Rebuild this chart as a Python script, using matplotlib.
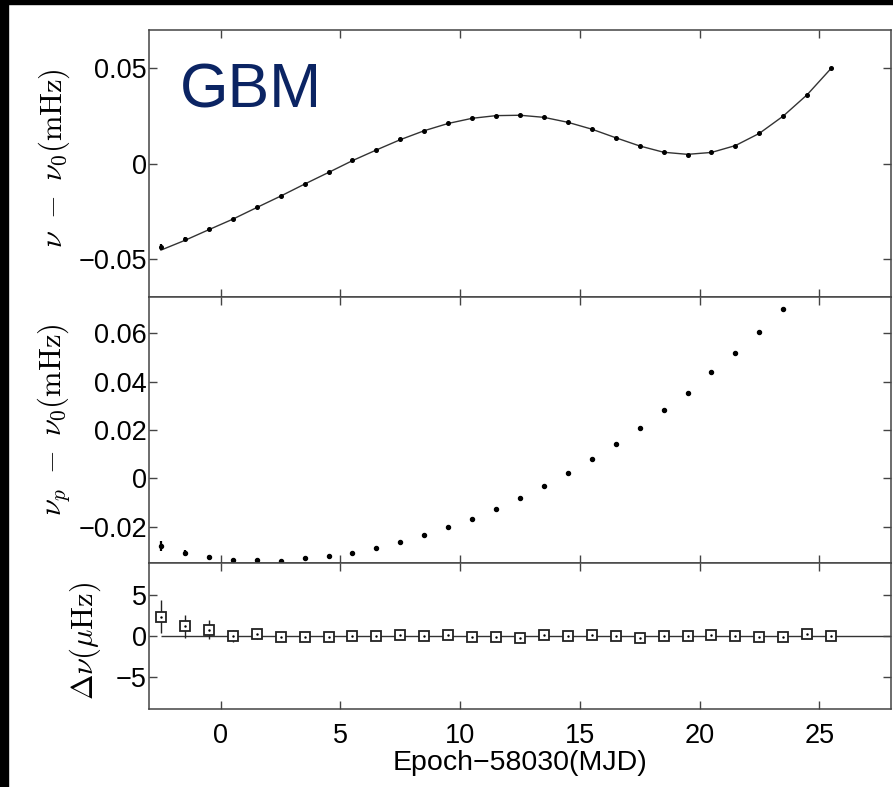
import matplotlib
matplotlib.use("Agg")
import matplotlib.pyplot as plt
from matplotlib.patches import Rectangle
import numpy as np

plt.rcParams["font.family"] = ["Liberation Sans", "DejaVu Sans"]
plt.rcParams["mathtext.fontset"] = "cm"

# epochs (MJD - 58030)
epoch = [-2.5, -1.5, -0.5, 0.5, 1.5, 2.5, 3.5, 4.5, 5.5, 6.5, 7.5, 8.5, 9.5, 10.5,
         11.5, 12.5, 13.5, 14.5, 15.5, 16.5, 17.5, 18.5, 19.5, 20.5, 21.5, 22.5,
         23.5, 24.5, 25.5]

# top panel: nu - nu0 (mHz), measured and fitted
nu_obs = [-0.0437, -0.0395, -0.0342, -0.0292, -0.0230, -0.0171, -0.0107, -0.0047,
          0.0016, 0.0071, 0.0126, 0.0173, 0.0210, 0.0237, 0.0251, 0.0253, 0.0242,
          0.0216, 0.0180, 0.0134, 0.0091, 0.0059, 0.0047, 0.0058, 0.0094, 0.0159,
          0.0249, 0.0361, 0.0499]
nu_err = [0.0015, 0.0009, 0.0006, 0.0004, 0.0003, 0.0003, 0.0003, 0.0003, 0.0003,
          0.0003, 0.0003, 0.0003, 0.0003, 0.0003, 0.0003, 0.0003, 0.0003, 0.0003,
          0.0003, 0.0003, 0.0003, 0.0003, 0.0003, 0.0003, 0.0003, 0.0003, 0.0003,
          0.0004, 0.0004]
nu_fit = [-0.0454, -0.0403, -0.0347, -0.0292, -0.0231, -0.0171, -0.0108, -0.0047,
          0.0015, 0.0071, 0.0125, 0.0172, 0.0210, 0.0237, 0.0251, 0.0253, 0.0242,
          0.0216, 0.0180, 0.0135, 0.0092, 0.0059, 0.0048, 0.0058, 0.0094, 0.0158,
          0.0249, 0.0361, 0.0499]

# middle panel: nu_p - nu0 (mHz)
epoch_p = epoch[:27]
nup_obs = [-0.0280, -0.0308, -0.0324, -0.0338, -0.0339, -0.0341, -0.0331, -0.0323,
           -0.0308, -0.0287, -0.0262, -0.0235, -0.0202, -0.0168, -0.0128, -0.0082,
           -0.0031, 0.0021, 0.0082, 0.0144, 0.0209, 0.0281, 0.0355, 0.0439, 0.0518,
           0.0605, 0.0699]
nup_err = [0.0019, 0.0012, 0.0009, 0.0006, 0.0005, 0.0004, 0.0004, 0.0004, 0.0004,
           0.0004, 0.0004, 0.0004, 0.0004, 0.0004, 0.0004, 0.0004, 0.0004, 0.0004,
           0.0004, 0.0004, 0.0004, 0.0004, 0.0004, 0.0004, 0.0004, 0.0004, 0.0004]

# bottom panel: residuals (uHz)
dnu = [2.4, 1.2, 0.8, 0.0, 0.2, -0.15, -0.15, -0.15, 0.0, 0.05, 0.1, 0.05, 0.1,
       -0.15, -0.15, -0.2, 0.15, 0.0, 0.1, 0.0, -0.2, -0.05, 0.0, 0.1, 0.0, -0.1,
       -0.1, 0.3, 0.0]
dnu_err = [2.0, 1.4, 1.2, 0.7, 0.6, 0.5, 0.5, 0.5, 0.5, 0.5, 0.5, 0.5, 0.5, 0.5,
           0.5, 0.5, 0.5, 0.5, 0.5, 0.5, 0.5, 0.5, 0.5, 0.5, 0.5, 0.5, 0.5, 0.5, 0.5]

x_ticks = [0, 5, 10, 15, 20, 25]
x_lim = (-3, 28)

W, H = 893, 787
fig = plt.figure(figsize=(W / 100, H / 100), dpi=100)

left = 149 / W
width = 742 / W
ax1 = fig.add_axes([left, 1 - 297 / H, width, 267 / H])
ax2 = fig.add_axes([left, 1 - 563 / H, width, 266 / H])
ax3 = fig.add_axes([left, 1 - 709 / H, width, 146 / H])

spine_col = "#444444"
for ax in (ax1, ax2, ax3):
    ax.set_xlim(*x_lim)
    ax.set_xticks(x_ticks)
    ax.tick_params(direction="in", length=6, width=1, colors=spine_col,
                   labelcolor="black", labelsize=19.5, top=True, right=True)
    ax.tick_params(axis="y", pad=1.5)
    ax.tick_params(axis="x", pad=10)
    for s in ax.spines.values():
        s.set_color(spine_col)
        s.set_linewidth(1.1)

# top panel
ax1.plot(epoch, nu_fit, color="#333333", lw=1.0, zorder=2)
ax1.errorbar(epoch, nu_obs, yerr=nu_err, fmt="o", ms=2.6, color="black",
             ecolor="black", elinewidth=1.6, capsize=0, zorder=3)
ax1.set_ylim(-0.07, 0.07)
ax1.set_yticks([-0.05, 0, 0.05])
ax1.set_yticklabels(["\u22120.05", "0", "0.05"])
ax1.tick_params(labelbottom=False)
ax1.set_ylabel(r"$\nu\ -\ \nu_0(\mathrm{mHz})$", fontsize=22)
ax1.yaxis.set_label_coords(-0.104, 0.522)

# middle panel
ax2.errorbar(epoch_p, nup_obs, yerr=nup_err, fmt="o", ms=2.9, color="black",
             ecolor="black", elinewidth=1.6, capsize=0)
ax2.set_ylim(-0.035, 0.075)
ax2.set_yticks([-0.02, 0, 0.02, 0.04, 0.06])
ax2.set_yticklabels(["\u22120.02", "0", "0.02", "0.04", "0.06"])
ax2.tick_params(labelbottom=False)
ax2.set_ylabel(r"$\nu_p\ -\ \nu_0(\mathrm{mHz})$", fontsize=22)
ax2.yaxis.set_label_coords(-0.104, 0.54)

# bottom panel
ax3.hlines(0, epoch[0], x_lim[1], color="#333333", lw=1.0, zorder=1)
ax3.errorbar(epoch, dnu, yerr=dnu_err, fmt="s", ms=7.2, mfc="white", mec="#222222",
             mew=1.3, color="#222222", elinewidth=1.0, capsize=0, zorder=2)
ax3.plot(epoch, dnu, ".", ms=1.5, color="black", zorder=3)
ax3.set_ylim(-9, 9)
ax3.set_yticks([-5, 0, 5])
ax3.set_yticklabels(["\u22125", "0", "5"])
ax3.set_ylabel(r"$\Delta\nu(\mu\mathrm{Hz})$", fontsize=22)
ax3.yaxis.set_label_coords(-0.062, 0.466)
ax3.set_xlabel("Epoch\u221258030(MJD)", fontsize=20.5, labelpad=1)

fig.text(180 / W, 1 - 107 / H, "GBM", fontsize=45, color="#0b2463",
         ha="left", va="baseline")

# black frame strips of the screenshot
fig.patches.append(Rectangle((0, 0), 8 / W, 1, transform=fig.transFigure,
                             color="black", zorder=10))
fig.patches.append(Rectangle((0, 1 - 4 / H), 1, 4 / H, transform=fig.transFigure,
                             color="black", zorder=10))

fig.savefig("out.png", dpi=100, facecolor="white")
